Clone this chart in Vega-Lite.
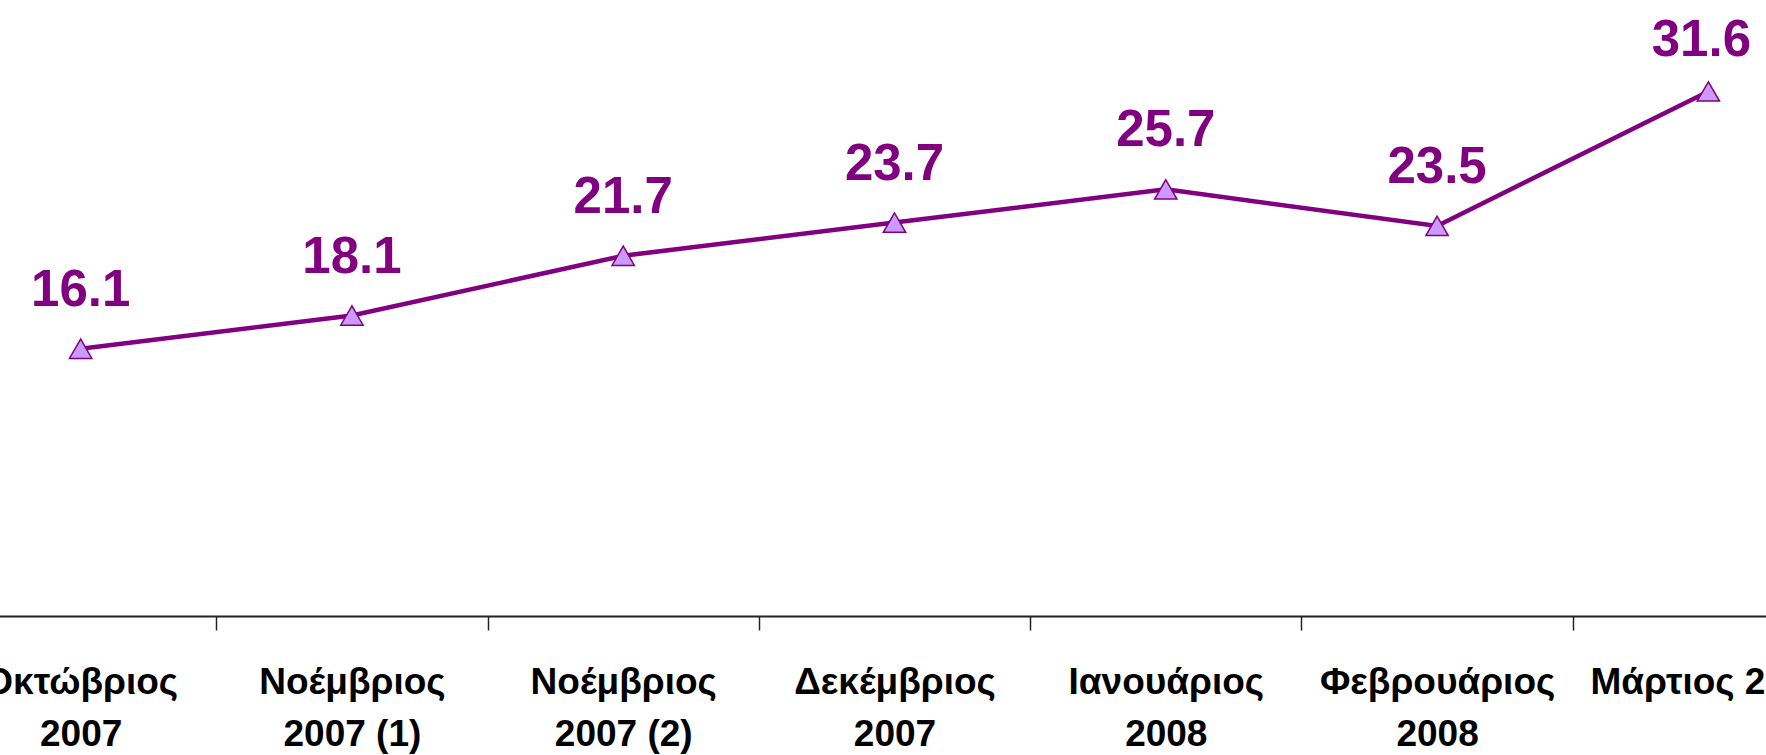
{
  "$schema": "https://vega.github.io/schema/vega-lite/v6.json",
  "width": 1899,
  "height": 581,
  "autosize": {"type": "none"},
  "padding": {"left": -55, "top": 35, "right": 0, "bottom": 139},
  "background": "white",
  "config": {"view": {"stroke": null}},
  "data": {
    "values": [
      {"month": "Οκτώβριος|2007", "value": 16.1},
      {"month": "Νοέμβριος|2007 (1)", "value": 18.1},
      {"month": "Νοέμβριος|2007 (2)", "value": 21.7},
      {"month": "Δεκέμβριος|2007", "value": 23.7},
      {"month": "Ιανουάριος|2008", "value": 25.7},
      {"month": "Φεβρουάριος|2008", "value": 23.5},
      {"month": "Μάρτιος 2008", "value": 31.6}
    ]
  },
  "encoding": {
    "x": {
      "field": "month",
      "type": "nominal",
      "sort": null,
      "scale": {"type": "band", "paddingInner": 0, "paddingOuter": 0},
      "axis": {
        "title": null,
        "labelAngle": 0,
        "labelFont": "Liberation Sans, Arial, sans-serif",
        "labelFontWeight": "bold",
        "labelFontSize": 37,
        "labelColor": "black",
        "labelLineHeight": 52,
        "labelExpr": "split(datum.label, '|')",
        "labelBaseline": "alphabetic",
        "labelPadding": 63,
        "labelLimit": 0,
        "labelOverlap": false,
        "tickSize": 14,
        "tickBand": "extent",
        "domainColor": "#222222",
        "domainWidth": 2,
        "tickColor": "#222222",
        "tickWidth": 1.5,
        "grid": false
      }
    },
    "y": {
      "field": "value",
      "type": "quantitative",
      "scale": {"domain": [0, 35], "nice": false, "zero": true},
      "axis": null
    }
  },
  "layer": [
    {"mark": {"type": "line", "color": "#800080", "strokeWidth": 4.5}},
    {"mark": {"type": "point", "shape": "triangle-up", "size": 500, "filled": true, "fill": "#CC99FF", "stroke": "#800080", "strokeWidth": 1.5, "opacity": 1}},
    {
      "transform": [{"filter": "datum.value < 30"}],
      "mark": {
        "type": "text",
        "font": "Liberation Sans, Arial, sans-serif",
        "fontWeight": "bold",
        "fontSize": 51,
        "color": "#800080",
        "baseline": "alphabetic",
        "align": "center",
        "dy": -43
      },
      "encoding": {"text": {"field": "value", "type": "quantitative", "format": ".1f"}}
    },
    {
      "transform": [{"filter": "datum.value >= 30"}],
      "mark": {
        "type": "text",
        "font": "Liberation Sans, Arial, sans-serif",
        "fontWeight": "bold",
        "fontSize": 51,
        "color": "#800080",
        "baseline": "alphabetic",
        "align": "center",
        "dx": -7,
        "dy": -35
      },
      "encoding": {"text": {"field": "value", "type": "quantitative", "format": ".1f"}}
    }
  ]
}
